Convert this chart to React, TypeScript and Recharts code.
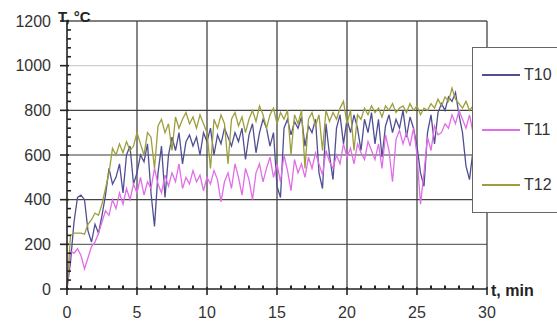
import { LineChart, Line, XAxis, YAxis, ReferenceLine } from 'recharts'

// time, min
const TIME = [
  0, 0.25, 0.5, 0.75, 1, 1.25, 1.5, 1.75, 2, 2.25, 2.5, 2.75, 3, 3.25, 3.5, 3.75,
  4, 4.25, 4.5, 4.75, 5, 5.25, 5.5, 5.75, 6, 6.25, 6.5, 6.75, 7, 7.25, 7.5, 7.75,
  8, 8.25, 8.5, 8.75, 9, 9.25, 9.5, 9.75, 10, 10.25, 10.5, 10.75, 11, 11.25, 11.5, 11.75,
  12, 12.25, 12.5, 12.75, 13, 13.25, 13.5, 13.75, 14, 14.25, 14.5, 14.75, 15, 15.25, 15.5, 15.75,
  16, 16.25, 16.5, 16.75, 17, 17.25, 17.5, 17.75, 18, 18.25, 18.5, 18.75, 19, 19.25, 19.5, 19.75,
  20, 20.25, 20.5, 20.75, 21, 21.25, 21.5, 21.75, 22, 22.25, 22.5, 22.75, 23, 23.25, 23.5, 23.75,
  24, 24.25, 24.5, 24.75, 25, 25.25, 25.5, 25.75, 26, 26.25, 26.5, 26.75, 27, 27.25, 27.5, 27.75,
  28, 28.25, 28.5, 28.75, 29,
]

const T10 = [
  0, 120, 300, 410, 420, 400, 260, 210, 290, 250, 330, 420, 540, 470, 500, 560,
  430, 600, 640, 470, 520, 600, 570, 650, 430, 280, 520, 640, 410, 600, 680, 620,
  700, 560, 660, 690, 640, 680, 600, 700, 660, 720, 600, 690, 650, 720, 680, 640,
  700, 660, 720, 580, 690, 740, 610, 700, 760, 720, 640, 700, 460, 410, 720, 760,
  690, 750, 720, 770, 640, 730, 700, 760, 520, 450, 740, 600, 490, 720, 780, 650,
  760, 700, 780, 720, 620, 760, 700, 790, 650, 760, 590, 730, 780, 700, 760, 720,
  800, 680, 770, 720, 640, 520, 460, 700, 780, 650, 790, 830, 800, 860, 840, 880,
  780, 700, 550, 490, 620,
]

const T11 = [
  0, 170, 160, 180, 150, 90, 140, 190, 210, 250, 300, 350, 330, 400, 360, 430,
  380, 450, 400, 470, 430, 500, 420, 480, 450, 540, 470, 430, 510, 460, 520, 480,
  560, 450, 500, 470, 530, 480, 510, 440, 500, 470, 530, 490, 390, 480, 520, 450,
  560, 500, 420, 540, 490, 400, 520, 560, 480, 540, 590, 500, 560, 480, 600, 530,
  440, 580, 520, 560, 500, 590, 540, 610, 560, 510, 620, 570, 540, 600, 560, 650,
  590, 630, 560, 650, 610, 580, 660, 620, 580, 650, 540, 690, 620, 480, 670, 710,
  650, 700, 640, 720, 600, 380, 520, 680, 620, 730, 690, 700, 740, 720, 780, 740,
  800, 760, 720, 780, 700,
]

const T12 = [
  0, 240, 250, 250, 250, 245, 290, 310, 340, 330, 380, 450, 520, 630, 600, 650,
  610, 660, 620, 640, 700, 650, 600, 700, 680, 540, 730, 760, 700, 740, 620, 770,
  720, 760, 790, 740, 770, 720, 780, 740, 700, 540, 760, 720, 780, 740, 560, 760,
  790, 730, 770, 700, 760, 800, 750, 820, 780, 720, 780, 810, 740, 790, 760, 800,
  600, 780, 740, 800, 540, 760, 790, 730, 780, 620, 800, 750, 790, 760, 810, 840,
  740, 800, 620, 780, 760, 810, 780, 820, 790, 810, 770, 820, 800, 830, 790, 810,
  820, 790, 830, 800, 820, 780, 810, 800, 830, 810, 850, 820, 860, 840, 900, 850,
  830, 810, 840, 800, 820,
]

const SERIES = [
  { key: 'T10', color: '#4f4f92' },
  { key: 'T11', color: '#e06ee6' },
  { key: 'T12', color: '#9e9e3c' },
]

const X_TICKS = [
  0, 1, 2, 3, 4, 5, 6, 7, 8, 9, 10, 11, 12, 13, 14, 15,
  16, 17, 18, 19, 20, 21, 22, 23, 24, 25, 26, 27, 28, 29, 30,
]
const Y_TICKS = [
  0, 40, 80, 120, 160, 200, 240, 280, 320, 360, 400, 440, 480, 520, 560, 600,
  640, 680, 720, 760, 800, 840, 880, 920, 960, 1000, 1040, 1080, 1120, 1160, 1200,
]
const GRID_X = [5, 10, 15, 20, 25, 30]
const GRID_Y = [
  { v: 200, c: '#6a6a6a' },
  { v: 400, c: '#444' },
  { v: 600, c: '#7a7a7a' },
  { v: 800, c: '#444' },
  { v: 1000, c: '#cfcfcf' },
  { v: 1200, c: '#555' },
]

const data = TIME.map((t, i) => ({ t, T10: T10[i], T11: T11[i], T12: T12[i] }))

const font = '"Liberation Sans", Arial, sans-serif'

function XTick(props: any) {
  const { x, y, payload } = props
  const v = payload.value
  const major = v % 5 === 0
  return (
    <g>
      {major ? (
        <line x1={x} x2={x} y1={y - 2} y2={y + 6} stroke="#222" strokeWidth={1.6} />
      ) : (
        <line x1={x} x2={x} y1={y - 3.5} y2={y} stroke="#222" strokeWidth={2} />
      )}
      {major && (
        <text x={x} y={y + 29} textAnchor="middle" fill="#333" fontSize={16} fontFamily={font}>
          {v}
        </text>
      )}
    </g>
  )
}

function YTick(props: any) {
  const { x, y, payload } = props
  const v = payload.value
  const major = v % 200 === 0
  return (
    <g>
      {major ? (
        <line x1={x - 7} x2={x + 2} y1={y} y2={y} stroke="#222" strokeWidth={1.6} />
      ) : (
        <line x1={x} x2={x + 4} y1={y} y2={y} stroke="#222" strokeWidth={1.6} />
      )}
      {major && (
        <text x={x - 16} y={y + 5.5} textAnchor="end" fill="#333" fontSize={16} fontFamily={font}>
          {v}
        </text>
      )}
    </g>
  )
}

export default function App() {
  return (
    <div style={{ position: 'absolute', left: 0, top: 0, width: 557, height: 322, background: '#fff', fontFamily: font, overflow: 'hidden' }}>
      <LineChart width={557} height={322} data={data} margin={{ top: 21, right: 70, left: 7, bottom: 3 }}>
        <XAxis
          dataKey="t"
          type="number"
          domain={[0, 30]}
          ticks={X_TICKS}
          interval={0}
          tickSize={0}
          tickMargin={0}
          tickLine={false}
          tick={<XTick />}
          height={30}
          stroke="#222"
          strokeWidth={1.6}
        />
        <YAxis
          type="number"
          domain={[0, 1200]}
          ticks={Y_TICKS}
          interval={0}
          tickSize={0}
          tickMargin={0}
          tickLine={false}
          tick={<YTick />}
          width={60}
          stroke="#222"
          strokeWidth={1.6}
        />
        {GRID_Y.map((g) => (
          <ReferenceLine key={'y' + g.v} y={g.v} stroke={g.c} strokeWidth={1.3} />
        ))}
        {GRID_X.map((v) => (
          <ReferenceLine key={'x' + v} x={v} stroke="#444" strokeWidth={1.3} />
        ))}
        {SERIES.map((s) => (
          <Line
            key={s.key}
            dataKey={s.key}
            type="linear"
            stroke={s.color}
            strokeWidth={1.3}
            dot={false}
            isAnimationActive={false}
          />
        ))}
      </LineChart>

      <div style={{ position: 'absolute', left: 58, top: 9, fontSize: 15, fontWeight: 'bold', color: '#222', lineHeight: '15px' }}>
        T, °C
      </div>
      <div style={{ position: 'absolute', left: 491, top: 283, fontSize: 16, fontWeight: 'bold', color: '#222', lineHeight: '16px' }}>
        t, min
      </div>

      <div style={{ position: 'absolute', left: 472, top: 47, width: 100, height: 164, border: '1px solid #666', background: '#fff' }}>
        {SERIES.map((s, i) => (
          <div key={s.key} style={{ position: 'absolute', left: 9, top: 18 + i * 55, display: 'flex', alignItems: 'center' }}>
            <div style={{ width: 38, height: 2, background: s.color }} />
            <span style={{ marginLeft: 4, fontSize: 16, color: '#333', lineHeight: '17px' }}>{s.key}</span>
          </div>
        ))}
      </div>
    </div>
  )
}
